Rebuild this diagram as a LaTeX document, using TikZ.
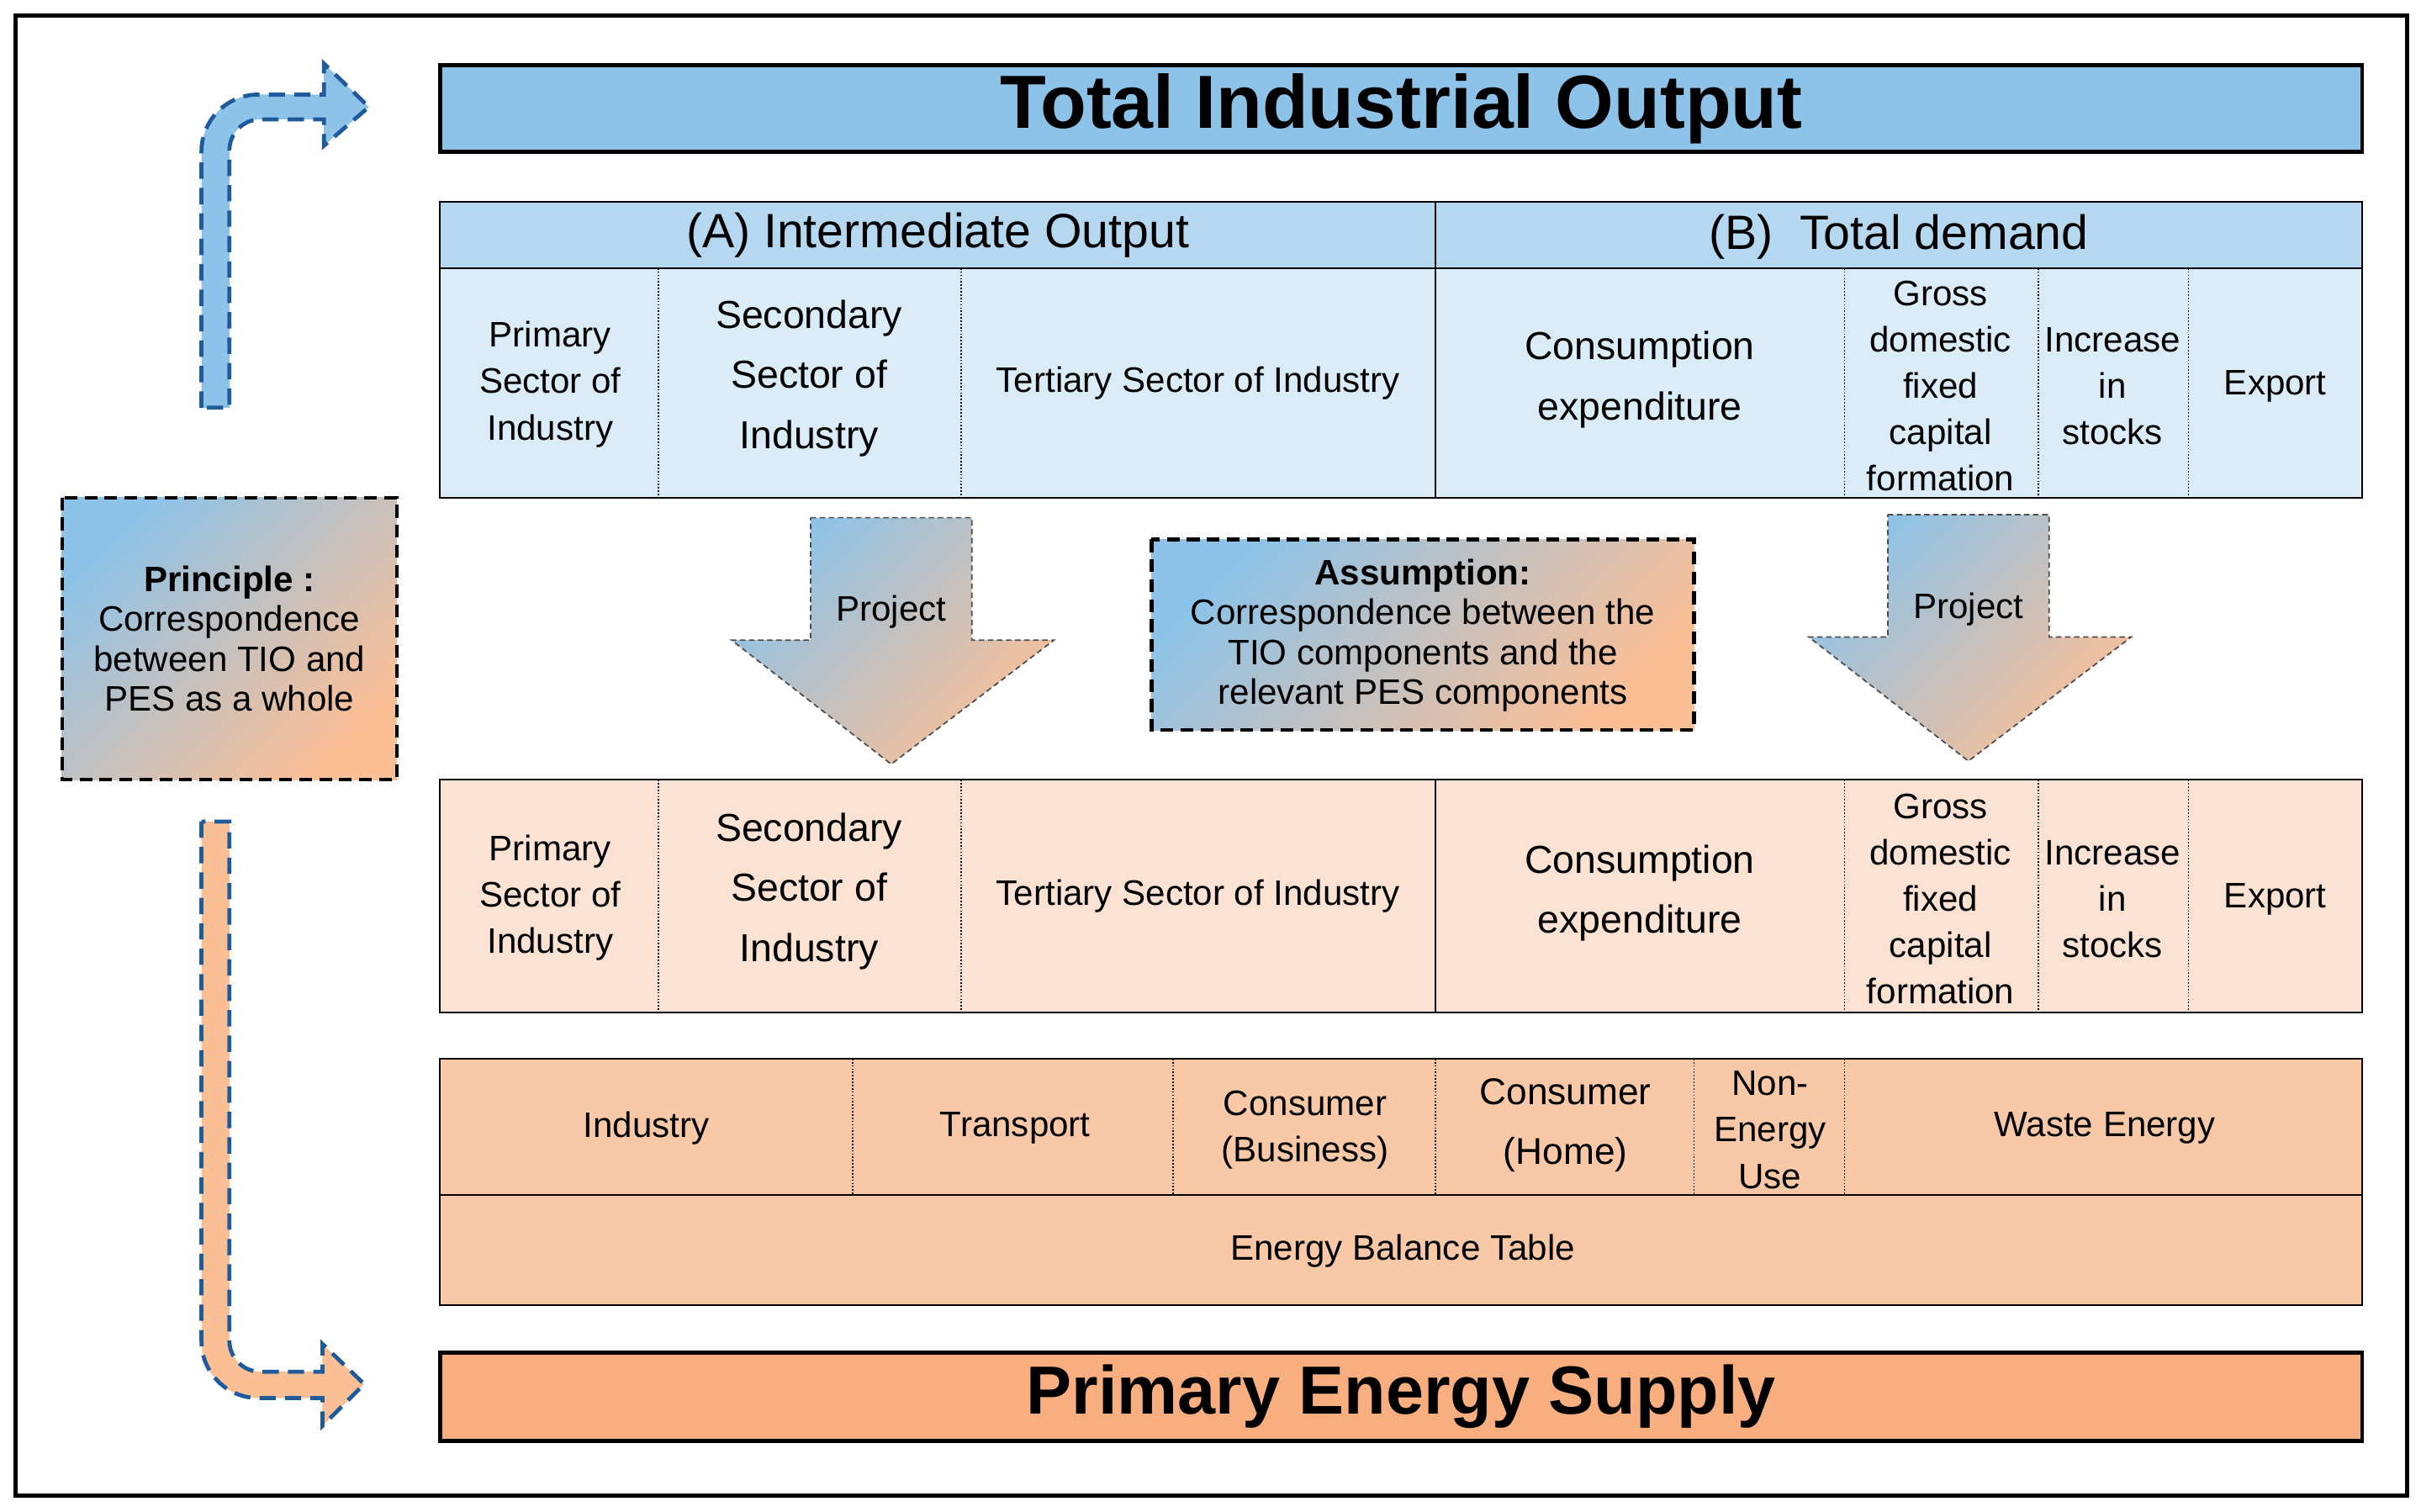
\documentclass[tikz,border=0pt]{standalone}
\usepackage{fontspec}
\setmainfont{Liberation Sans}
\definecolor{tio}{HTML}{8DC3E8}
\definecolor{hdrb}{HTML}{B5D8F0}
\definecolor{bodyb}{HTML}{D9ECF8}
\definecolor{bodyo}{HTML}{FCE2D2}
\definecolor{ebt}{HTML}{F9C8A6}
\definecolor{pes}{HTML}{F9AE80}
\definecolor{grado}{HTML}{FBBF96}
\definecolor{dashb}{HTML}{1F5A9A}
\tikzset{
 fs/.style={font=\fontsize{19.5}{25.5}\selectfont},
 fl/.style={font=\fontsize{21.5}{33}\selectfont},
 cell/.style={align=center,inner sep=0pt},
 dv/.style={densely dotted,line width=0.8pt},
 grad/.style={shading=axis,top color=tio,bottom color=grado,shading angle=45},
 bendarrow/.style={line width=2.2pt,dash pattern=on 9pt off 5pt,draw=dashb},
}
\begin{document}
\begin{tikzpicture}[x=0.03cm,y=-0.03cm]
\useasboundingbox (0,0) rectangle (1562,975);
\draw[line width=2.5pt] (10,10) rectangle (1553,965);
% title
\node[draw,line width=2.2pt,fill=tio,minimum width=1240*0.03cm,minimum height=56*0.03cm,font=\fontsize{41.5}{42}\selectfont\bfseries] (tio) at (904,70) {Total Industrial Output};
% top table
\fill[hdrb] (284,130) rectangle (1524,173);
\fill[bodyb] (284,173) rectangle (1524,321);
\draw[line width=0.9pt] (284,130) rectangle (1524,321) (284,173)--(1524,173) (926,130)--(926,321);
\foreach \x in {425,620,1190,1315,1412} \draw[dv] (\x,173)--(\x,321);
\node[font=\fontsize{26.5}{28}\selectfont] (ha) at (605,152) {(A) Intermediate Output};
\node[font=\fontsize{26.5}{28}\selectfont] (hb) at (1225,153) {(B)\ \ Total demand};
% bottom table
\fill[bodyo] (284,503) rectangle (1524,653);
\draw[line width=0.9pt] (284,503) rectangle (1524,653) (926,503)--(926,653);
\foreach \x in {425,620,1190,1315,1412} \draw[dv] (\x,503)--(\x,653);
\foreach \dy/\s in {0/t,331/b}{
 \node[cell,fs] (p\s) at (355,248+\dy) {Primary\\Sector of\\Industry};
 \node[cell,fl] (s\s) at (522,244+\dy) {Secondary\\Sector of\\Industry};
 \node[cell,fs] (t\s) at (773,247+\dy) {Tertiary Sector of Industry};
 \node[cell,fl] (c\s) at (1058,245+\dy) {Consumption\\expenditure};
 \node[cell,fs] (g\s) at (1252,249+\dy) {Gross\\domestic\\fixed\\capital\\formation};
 \node[cell,fs] (i\s) at (1363,249+\dy) {Increase\\in\\stocks};
 \node[cell,fs] (e\s) at (1468,249+\dy) {Export};
}
% energy balance table
\fill[ebt] (284,683) rectangle (1524,842);
\draw[line width=0.9pt] (284,683) rectangle (1524,842) (284,771)--(1524,771);
\foreach \x in {550,757,926,1093,1190} \draw[dv] (\x,683)--(\x,771);
\node[cell,fs] (ind) at (417,728) {Industry};
\node[cell,fs] (tra) at (655,728) {Transport};
\node[cell,fs] (cb) at (842,729) {Consumer\\(Business)};
\node[cell,font=\fontsize{20.5}{33}\selectfont] (ch) at (1010,726) {Consumer\\(Home)};
\node[cell,fs] (neu) at (1142,729) {Non-\\Energy\\Use};
\node[cell,fs] (we) at (1358,728) {Waste Energy};
\node[cell,fs] (ebtl) at (905,807) {Energy Balance Table};
% PES
\node[draw,line width=2.2pt,fill=pes,minimum width=1240*0.03cm,minimum height=57*0.03cm,font=\fontsize{37.5}{38}\selectfont\bfseries] (pesb) at (904,901) {Primary Energy Supply};
% principle
\path[grad,draw=black,line width=2pt,dash pattern=on 7pt off 4pt] (40,321) rectangle (256,503);
\node[cell,font=\fontsize{19.5}{22}\selectfont] (pr) at (148,412) {\textbf{Principle :}\\Correspondence\\between TIO and\\PES as a whole};
% assumption
\path[grad,draw=black,line width=2pt,dash pattern=on 7pt off 4pt] (743,348) rectangle (1093,471);
\node[cell,font=\fontsize{19.5}{22}\selectfont] (as) at (918,410) {\textbf{Assumption:}\\Correspondence between the\\TIO components and the\\relevant PES components};
% project arrows
\foreach \ox/\oy/\n in {0/0/pl,695/-2/pr2}{
 \path[grad,draw=black!70,densely dashed,line width=0.8pt] (523+\ox,334+\oy)--(627+\ox,334+\oy)--(627+\ox,413+\oy)--(680+\ox,413+\oy)--(575+\ox,493+\oy)--(472+\ox,413+\oy)--(523+\ox,413+\oy)--cycle;
 \node[cell,fs] (\n) at (575+\ox,395+\oy) {Project};
}
% bent arrows
\path[fill=tio,bendarrow] (130,263) [rounded corners=1.1cm] -- (130,61) [sharp corners] -- (209,61) -- (209,41) -- (238,69) -- (209,94) -- (209,77) [rounded corners=0.6cm] -- (148,77) [sharp corners] -- (148,263) -- cycle;
\path[fill=grado,bendarrow] (130,530) [rounded corners=1.1cm] -- (130,902) [sharp corners] -- (208,902) -- (208,920) -- (235,893) -- (208,867) -- (208,885) [rounded corners=0.6cm] -- (148,885) [sharp corners] -- (148,530) -- cycle;
\end{tikzpicture}
\end{document}
